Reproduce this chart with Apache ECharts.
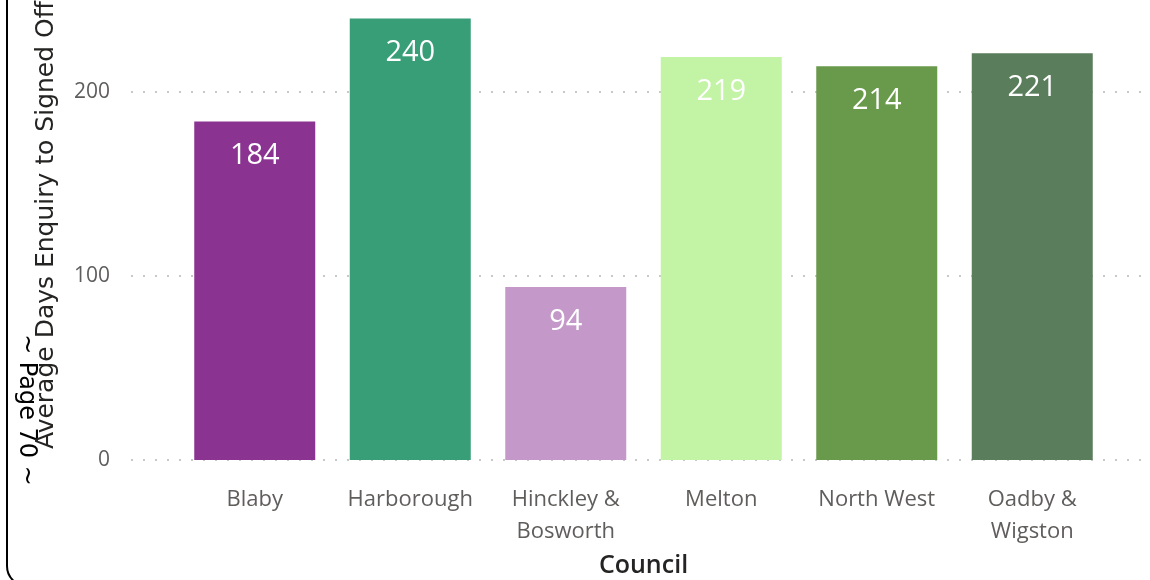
<!DOCTYPE html>
<html>
<head>
<meta charset="utf-8">
<script src="https://cdn.jsdelivr.net/npm/echarts@6/dist/echarts.min.js"></script>
<style>
  html, body { margin: 0; padding: 0; background: #ffffff; }
  #chart { width: 1150px; height: 580px; }
</style>
</head>
<body>
<div id="chart"></div>
<script>
// Councils and their average days from enquiry to sign-off
const councils = ['Blaby', 'Harborough', 'Hinckley &\nBosworth', 'Melton', 'North West', 'Oadby &\nWigston'];
const avgDays = [184, 240, 94, 219, 214, 221];
const barColors = ['#8A3391', '#379E78', '#C498C9', '#C3F4A5', '#69994A', '#5A7D5C'];
const yTickStep = 100;

const yMax = 470 / 1.84; // 0..200 ticks; the top of the axis runs just past the page edge
const font = '"Open Sans", "Noto Sans", sans-serif';
const titleFont = '"DejaVu Sans", sans-serif';

const chart = echarts.init(document.getElementById('chart'), null, { renderer: 'canvas' });

chart.setOption({
  animation: false,
  backgroundColor: '#ffffff',
  grid: [
    { left: 177, right: 40, top: -10, bottom: 120, outerBoundsMode: 'none' },
    { left: 131, right: 8, top: -10, bottom: 120, outerBoundsMode: 'none' }
  ],
  xAxis: [
    {
      type: 'category',
      gridIndex: 0,
      data: councils,
      axisLine: { show: false },
      axisTick: { show: false },
      axisLabel: {
        color: '#605E5C',
        fontFamily: font,
        fontSize: 22,
        lineHeight: 32,
        margin: 24,
        interval: 0
      },
      name: 'Council',
      nameLocation: 'middle',
      nameGap: 92,
      nameTextStyle: {
        color: '#252423',
        fontFamily: font,
        fontSize: 25,
        fontWeight: 600
      }
    },
    {
      type: 'value',
      gridIndex: 1,
      min: 0,
      max: 1,
      show: false
    }
  ],
  yAxis: [
    {
      type: 'value',
      gridIndex: 0,
      min: 0,
      max: yMax,
      show: false
    },
    {
      type: 'value',
      gridIndex: 1,
      min: 0,
      max: yMax,
      interval: yTickStep,
      axisLine: { show: false },
      axisTick: { show: false },
      axisLabel: {
        color: '#605E5C',
        fontFamily: font,
        fontSize: 21,
        margin: 21,
        showMaxLabel: false
      },
      splitLine: {
        show: true,
        lineStyle: { color: '#C8C8C8', width: 2, type: [2, 10] }
      },
      name: 'Average Days Enquiry to Signed Off',
      nameLocation: 'middle',
      nameGap: 72,
      nameTextStyle: {
        color: '#252423',
        fontFamily: titleFont,
        fontSize: 25
      }
    }
  ],
  series: [
    {
      type: 'bar',
      xAxisIndex: 0,
      yAxisIndex: 0,
      barWidth: 121,
      data: avgDays.map((v, i) => ({ value: v, itemStyle: { color: barColors[i] } })),
      label: {
        show: true,
        position: 'insideTop',
        distance: 20,
        color: '#ffffff',
        fontFamily: font,
        fontSize: 29
      }
    }
  ],
  graphic: [
    {
      type: 'rect',
      shape: { x: 7, y: -50, width: 1300, height: 636, r: 20 },
      style: { fill: 'none', stroke: '#000000', lineWidth: 2 },
      silent: true
    },
    {
      type: 'text',
      x: 26,
      y: 410,
      rotation: -Math.PI / 2,
      style: {
        text: '~ Page 70 ~',
        fill: '#000000',
        font: '24px "DejaVu Sans", sans-serif',
        align: 'center',
        verticalAlign: 'middle'
      },
      silent: true
    }
  ]
});
</script>
</body>
</html>
